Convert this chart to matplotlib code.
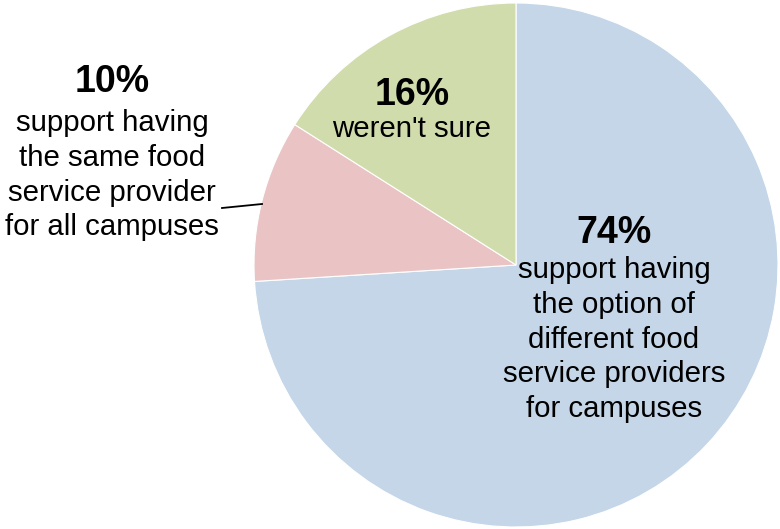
import matplotlib.pyplot as plt

plt.rcParams['font.family'] = ['Liberation Sans', 'DejaVu Sans']

shares = [74, 10, 16]
pct_labels = ['74%', '10%', '16%']
descriptions = [
    'support having\nthe option of\ndifferent food\nservice providers\nfor campuses',
    'support having\nthe same food\nservice provider\nfor all campuses',
    "weren't sure",
]
colors = ['#c4d6e8', '#eac4c4', '#d1dcac']

W, H = 780, 529
fig = plt.figure(figsize=(W / 100, H / 100), dpi=100)
ax = fig.add_axes([0, 0, 1, 1])

cx, cy, r = 516, H - 265, 262
ax.pie(shares, colors=colors, startangle=90, counterclock=False,
       center=(cx, cy), radius=r, frame=True,
       wedgeprops=dict(edgecolor='white', linewidth=0.8))
ax.set_xlim(0, W)
ax.set_ylim(0, H)
ax.set_aspect('equal')
ax.axis('off')

# label anchors: x, y of percent line, y of description top
spots = [(614, H - 233, H - 256), (112, H - 82, H - 109), (412, H - 95, H - 115)]
for pct, desc, (x, yp, yd) in zip(pct_labels, descriptions, spots):
    ax.text(x, yp, pct, ha='center', va='center', fontsize=27,
            fontweight='bold', color='black')
    ax.text(x, yd, desc, ha='center', va='top', fontsize=21.2,
            linespacing=1.31, color='black')

# leader line for the small slice
ax.plot([222, 262], [H - 208, H - 204], color='black', lw=1.3)

fig.savefig('out.png', dpi=100)
